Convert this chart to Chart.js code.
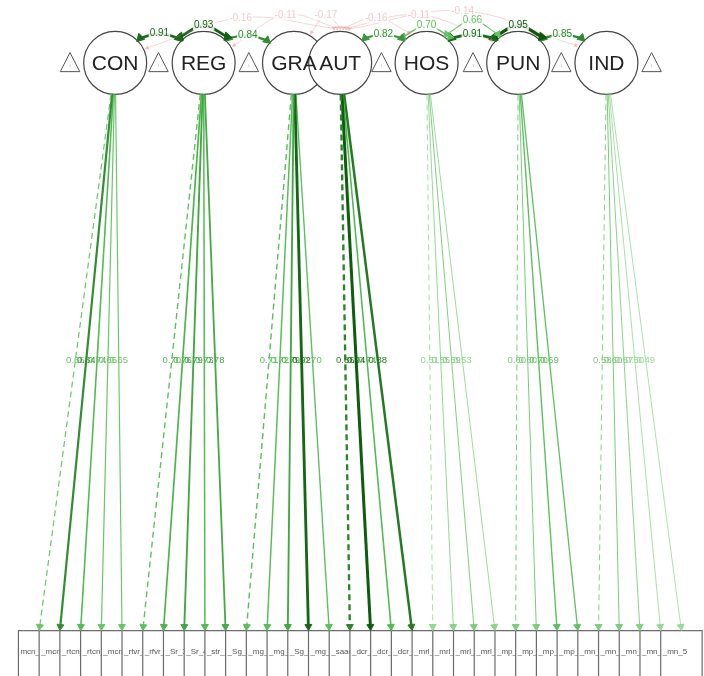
<!DOCTYPE html>
<html>
<head>
<meta charset="utf-8">
<title>Factor model</title>
<script src="https://cdn.jsdelivr.net/npm/chart.js@4.4.1/dist/chart.umd.min.js"></script>
<style>
  html, body { margin: 0; padding: 0; background: #fff; }
  #wrap { width: 704px; height: 676px; position: relative; }
</style>
</head>
<body>
<div id="wrap"><canvas id="sem"></canvas></div>
<script>
// latent factors
const factors = ['CON', 'REG', 'GRA', 'AUT', 'HOS', 'PUN', 'IND'];

// standardized loadings per factor, first path of each is the fixed (dashed) one
const loadCON = [0.66, 0.84, 0.74, 0.66, 0.65];
const loadREG = [0.70, 0.76, 0.79, 0.73, 0.78];
const loadGRA = [0.71, 0.72, 0.79, 0.92, 0.70];
const loadAUT = [0.86, 0.94, 0.74, 0.88];
const loadHOS = [0.51, 0.55, 0.59, 0.53];
const loadPUN = [0.60, 0.60, 0.70, 0.69];
const loadIND = [0.58, 0.60, 0.57, 0.50, 0.49];

// observed items, in box order
const items = ['mcn_1', '_mcn_2', '_rtcn_3', '_rtcn_4', '_mcn_5',
  '_rtvr_1', '_rfvr_2', '_Sr_3', '_Sr_4', '_str_5',
  '_Sg_1', '_mg_2', '_mg_3', '_Sg_4', '_mg_5',
  '_saac_1', '_dcr_2', '_dcr_3', '_dcr_4',
  '_mrl_1', '_mrl_2', '_mrl_3', '_mrl_4',
  '_mp_1', '_mp_2', '_mp_3', '_mp_4',
  '_mn_1', '_mn_2', '_mn_3', '_mn_4', '_mn_5'];

// positive covariances (green arcs)
const covFrom = ['CON', 'REG', 'REG', 'AUT', 'HOS', 'HOS', 'HOS', 'PUN', 'PUN'];
const covTo   = ['REG', 'REG', 'GRA', 'HOS', 'HOS', 'PUN', 'PUN', 'PUN', 'IND'];
const covVal  = [0.91, 0.93, 0.84, 0.82, 0.70, 0.66, 0.91, 0.95, 0.85];

// negative covariances with AUT (faint red arcs)
const negFrom = ['CON', 'REG', 'GRA', 'AUT', 'AUT', 'AUT'];
const negTo   = ['AUT', 'AUT', 'AUT', 'HOS', 'PUN', 'IND'];
const negVal  = [-0.16, -0.11, -0.17, -0.16, -0.11, -0.14];

// layout: x in item slots, y in the same units with the latent row at 0
const factorX = [3.67, 7.94, 12.30, 14.53, 18.70, 23.12, 27.38];
const ITEM_Y = 27.42;
const R = 1.52;
const covAngles = [[-45, -135], [-132, -48], [-45, -140], [-45, -135], [-132, -48],
  [-55, -125], [-45, -135], [-132, -48], [-45, -135]];
const covPeak = [-1.42, -1.8, -1.33, -1.38, -1.8, -2.04, -1.38, -1.8, -1.38];
const negAngles = [[-25, -100], [-30, -95], [-60, -90], [-85, -120], [-80, -140], [-75, -150]];
const negPeak = [-2.18, -2.32, -2.32, -2.18, -2.32, -2.51];

const FONT = '"Liberation Sans", Arial, Helvetica, sans-serif';
const PINK = 'rgba(225, 120, 120, 0.3)';

// strength -> 0..1
const strength = v => Math.min(1, Math.max(0, (Math.abs(v) - 0.45) / 0.5));
const widthFor = v => 0.8 + 2.3 * strength(v) ** 2;

// light green -> green -> dark green
const greenFor = v => {
  const t = strength(v);
  const stops = [[165, 222, 165], [80, 185, 80], [10, 88, 10]];
  const [a, b, u] = t < 0.6 ? [stops[0], stops[1], t / 0.6] : [stops[1], stops[2], (t - 0.6) / 0.4];
  const c = a.map((s, i) => Math.round(s + (b[i] - s) * u));
  return `rgb(${c[0]},${c[1]},${c[2]})`;
};

const datasets = [];

// one arc between two factors, arrow heads at both ends
const arcDataset = (f1, a1, f2, a2, peakY, color, width, head, text, textColor) => {
  const off = R + 0.18;
  const at = (f, a) => {
    const rad = a * Math.PI / 180;
    return { x: factorX[factors.indexOf(f)] + Math.cos(rad) * off, y: Math.sin(rad) * off };
  };
  const s = at(f1, a1), e = at(f2, a2);
  const mid = { x: (s.x + e.x) / 2, y: peakY };
  return {
    data: [s, mid, e], showLine: true, tension: 0.4, clip: false,
    borderColor: color, borderWidth: width,
    pointStyle: 'triangle', pointRadius: [head, 0, head], pointRotation: [a1 - 90, 0, a2 - 90],
    pointBackgroundColor: color, pointBorderColor: color, pointBorderWidth: 1,
    labelText: text, labelAt: mid, labelColor: textColor, labelBg: true
  };
};

negVal.forEach((v, i) => {
  datasets.push(arcDataset(negFrom[i], negAngles[i][0], negTo[i], negAngles[i][1], negPeak[i],
    PINK, 1, 2, v.toFixed(2), 'rgba(225, 120, 120, 0.4)'));
});

covVal.forEach((v, i) => {
  const col = greenFor(v);
  datasets.push(arcDataset(covFrom[i], covAngles[i][0], covTo[i], covAngles[i][1], covPeak[i],
    col, widthFor(v), 3 + 2 * strength(v), v.toFixed(2), col));
});

// loadings: factor -> item
const loadings = [loadCON, loadREG, loadGRA, loadAUT, loadHOS, loadPUN, loadIND];
let item = 0;
loadings.forEach((vals, f) => {
  vals.forEach((v, j) => {
    const fx = factorX[f];
    const dx = item - fx, dy = ITEM_Y;
    const len = Math.hypot(dx, dy), ux = dx / len, uy = dy / len;
    const s = { x: fx + ux * R, y: uy * R };
    const e = { x: item - ux * 0.2, y: ITEM_Y - uy * 0.2 };
    const col = greenFor(v);
    datasets.push({
      data: [s, e], showLine: true, clip: false,
      borderColor: col, borderWidth: widthFor(v), borderDash: j === 0 ? [6, 4] : [],
      pointStyle: 'triangle', pointRadius: [0, 4], pointRotation: [0, Math.atan2(dx, -dy) * 180 / Math.PI],
      pointBackgroundColor: col, pointBorderColor: col, pointBorderWidth: 1,
      labelText: v.toFixed(2), labelAt: { x: (s.x + e.x) / 2, y: (s.y + e.y) / 2 }, labelColor: col
    });
    item++;
  });
});

const diagram = {
  id: 'diagram',
  beforeDatasetsDraw(chart) {
    const { ctx, scales: { x, y } } = chart;
    const px = v => x.getPixelForValue(v), py = v => y.getPixelForValue(v);
    const unit = Math.abs(px(1) - px(0));
    ctx.save();

    // item boxes, each one half covered by the next
    ctx.textBaseline = 'middle';
    ctx.textAlign = 'left';
    ctx.font = `8px ${FONT}`;
    items.forEach((name, i) => {
      const l = px(i - 1), r = px(i + 1), t = py(ITEM_Y), b = py(ITEM_Y + 4);
      ctx.fillStyle = '#fff';
      ctx.fillRect(l, t, r - l, b - t);
      ctx.strokeStyle = '#6a6a6a';
      ctx.lineWidth = 1.2;
      ctx.strokeRect(l, t, r - l, b - t);
      ctx.fillStyle = '#555';
      ctx.fillText(name, l + 2, py(ITEM_Y + 1));
    });

    // intercept triangles
    const tri = factorX.map(fx => fx - 2.18).concat([factorX[factorX.length - 1] + 2.18]);
    tri.forEach(tx => {
      ctx.beginPath();
      ctx.moveTo(px(tx), py(-0.5));
      ctx.lineTo(px(tx + 0.47), py(0.42));
      ctx.lineTo(px(tx - 0.47), py(0.42));
      ctx.closePath();
      ctx.fillStyle = '#fff';
      ctx.fill();
      ctx.strokeStyle = '#555';
      ctx.lineWidth = 1;
      ctx.stroke();
      ctx.fillStyle = '#bbb';
      ctx.font = `4px ${FONT}`;
      ctx.textAlign = 'center';
      ctx.fillText('1', px(tx), py(0.15));
    });

    // latent circles, then their names on top
    factors.forEach((name, f) => {
      ctx.beginPath();
      ctx.arc(px(factorX[f]), py(0), R * unit, 0, Math.PI * 2);
      ctx.fillStyle = '#fff';
      ctx.fill();
      ctx.strokeStyle = '#444';
      ctx.lineWidth = 1.2;
      ctx.stroke();
    });
    ctx.fillStyle = '#222';
    ctx.font = `21px ${FONT}`;
    ctx.textAlign = 'center';
    ctx.textBaseline = 'middle';
    factors.forEach((name, f) => ctx.fillText(name, px(factorX[f]), py(0) + 1));
    ctx.restore();
  },
  afterDatasetsDraw(chart) {
    const { ctx, scales: { x, y } } = chart;
    ctx.save();
    ctx.textAlign = 'center';
    ctx.textBaseline = 'middle';
    chart.data.datasets.forEach(ds => {
      if (!ds.labelText) return;
      const lx = x.getPixelForValue(ds.labelAt.x), ly = y.getPixelForValue(ds.labelAt.y);
      ctx.font = `${ds.labelBg ? 10 : 9.5}px ${FONT}`;
      if (ds.labelBg) {
        const w = ctx.measureText(ds.labelText).width;
        ctx.fillStyle = 'rgba(255,255,255,0.85)';
        ctx.fillRect(lx - w / 2 - 1, ly - 5, w + 2, 10);
      }
      ctx.fillStyle = ds.labelColor;
      ctx.fillText(ds.labelText, lx, ly);
    });
    ctx.restore();
  }
};

new Chart(document.getElementById('sem'), {
  type: 'scatter',
  data: { datasets },
  options: {
    responsive: true,
    maintainAspectRatio: false,
    animation: false,
    events: [],
    layout: { padding: 0 },
    plugins: { legend: { display: false }, tooltip: { enabled: false } },
    scales: {
      x: { type: 'linear', display: false, min: -1.6, max: 31.8 },
      y: { type: 'linear', display: false, min: -2.75, max: 29.32, reverse: true }
    }
  },
  plugins: [diagram]
});
</script>
</body>
</html>
